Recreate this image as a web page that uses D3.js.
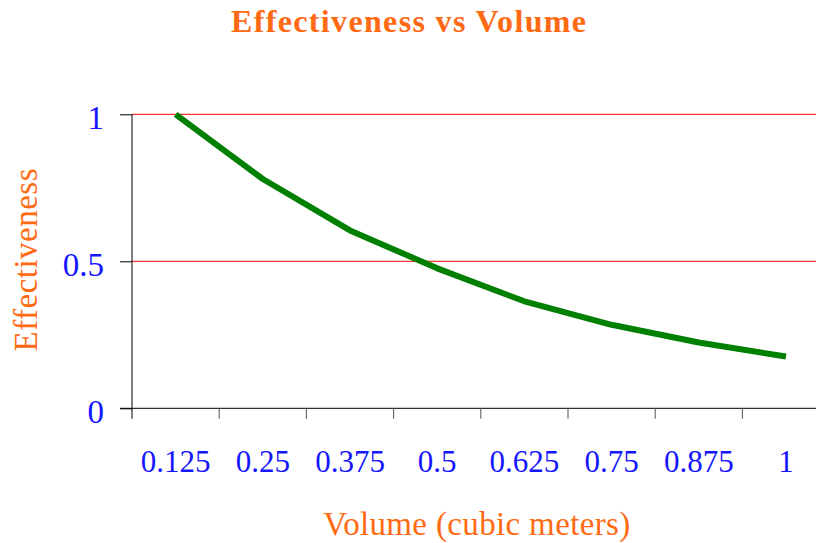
<!DOCTYPE html>
<html><head><meta charset="utf-8">
<script src="https://cdn.jsdelivr.net/npm/d3@7"></script>
<style>body{margin:0;background:#fff}svg{display:block}</style>
</head><body>
<svg id="c" width="816" height="543"></svg>
<script>
const categories = ["0.125","0.25","0.375","0.5","0.625","0.75","0.875","1"];
const effectiveness = [1.0, 0.78, 0.605, 0.476, 0.364, 0.284, 0.224, 0.176];
const yTicks = [0, 0.5, 1];
const yTickLabels = ["0", "0.5", "1"];

(function () {
const svg = d3.select("#c");
const font = "'Liberation Serif', 'Times New Roman', serif";
const orange = "#FF6A13", blue = "#1515FF";
const pLeft = 132, pRight = 829.6, pTop = 114.3, pBottom = 408.3;

const x = d3.scaleBand().domain(categories).range([pLeft, pRight]).padding(0);
const y = d3.scaleLinear().domain([0, 1]).range([pBottom, pTop]);

// gridlines
svg.append("g").selectAll("line").data(yTicks.filter(d => d > 0)).join("line")
  .attr("x1", pLeft).attr("x2", pRight).attr("y1", d => y(d)).attr("y2", d => y(d))
  .attr("stroke", "#FF0000").attr("stroke-width", 1);

// y axis
const yAxis = d3.axisLeft(y).tickValues(yTicks).tickSize(12).tickPadding(16)
  .tickFormat((d, i) => yTickLabels[i]);
const gy = svg.append("g").attr("transform", `translate(${pLeft},0)`).call(yAxis);
gy.select(".domain").remove();
gy.selectAll(".tick line").attr("stroke", "#000");
gy.selectAll("text").attr("fill", blue).style("font-family", font).style("font-size", "33px").attr("dy", "0.42em");
svg.append("line").attr("x1", pLeft).attr("x2", pLeft).attr("y1", pTop).attr("y2", pBottom + 10.5)
  .attr("stroke", "#000").attr("stroke-width", 1);

// x axis
svg.append("line").attr("x1", pLeft - 12).attr("x2", pRight).attr("y1", pBottom).attr("y2", pBottom)
  .attr("stroke", "#000").attr("stroke-width", 1);
const tickXs = categories.map(c => x(c)).concat([x(categories[categories.length - 1]) + x.bandwidth()]);
svg.append("g").selectAll("line").data(tickXs.slice(1)).join("line")
  .attr("x1", d => d).attr("x2", d => d).attr("y1", pBottom).attr("y2", pBottom + 10.5)
  .attr("stroke", "#555").attr("stroke-width", 1);
svg.append("g").selectAll("text").data(categories).join("text")
  .attr("x", d => x(d) + x.bandwidth() / 2).attr("y", 471.7)
  .attr("text-anchor", "middle").attr("fill", blue)
  .style("font-family", font).style("font-size", "31px").text(d => d);

// line
const line = d3.line().x((d, i) => x(categories[i]) + x.bandwidth() / 2).y(d => y(d));
svg.append("path").datum(effectiveness).attr("d", line)
  .attr("fill", "none").attr("stroke", "#008000").attr("stroke-width", 6)
  .attr("stroke-linejoin", "round");

// titles
svg.append("text").attr("x", 408.5).attr("y", 32.3).attr("text-anchor", "middle")
  .attr("fill", orange).style("font-family", font).style("font-size", "32px").style("font-weight", "bold")
  .attr("textLength", 355).attr("lengthAdjust", "spacing")
  .text("Effectiveness vs Volume");
svg.append("text").attr("x", 476.7).attr("y", 535).attr("text-anchor", "middle")
  .attr("fill", orange).style("font-family", font).style("font-size", "33px")
  .attr("textLength", 307).attr("lengthAdjust", "spacing")
  .text("Volume (cubic meters)");
svg.append("text").attr("transform", "translate(37,260) rotate(-90)").attr("text-anchor", "middle")
  .attr("fill", orange).style("font-family", font).style("font-size", "33px")
  .attr("textLength", 183).attr("lengthAdjust", "spacing")
  .text("Effectiveness");
})();
</script>
</body></html>
